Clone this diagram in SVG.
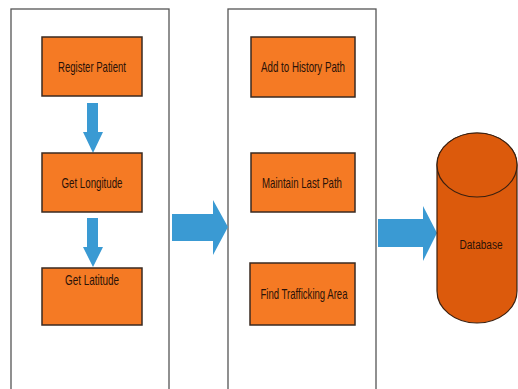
<svg xmlns="http://www.w3.org/2000/svg" width="518" height="389" viewBox="0 0 518 389">
  <style>
    .panel { fill: #ffffff; stroke: #555555; stroke-width: 1.3; }
    .box { fill: #F57A24; stroke: #3a2a20; stroke-width: 1.5; }
    .label { font-family: "Liberation Sans", Arial, sans-serif; font-size: 15px; fill: #2a1208; text-anchor: middle; }
    .arrow { fill: #3A9AD3; }
    .db { fill: #DC5A0C; stroke: #3a2010; stroke-width: 1.2; }
  </style>
  <rect width="518" height="389" fill="#ffffff"/>

  <!-- panels -->
  <rect class="panel" x="11" y="9" width="158" height="390"/>
  <rect class="panel" x="228" y="9" width="148" height="390"/>

  <!-- connectors -->
  <g id="connectors">
    <polygon class="arrow" points="87,103 98,103 98,132 103,132 93,153 83,132 87,132"/>
    <polygon class="arrow" points="87,218 98,218 98,247 103,247 93,267 83,247 87,247"/>
    <polygon class="arrow" points="172,214 213,214 213,200 228,227 213,255 213,241 172,241"/>
    <polygon class="arrow" points="378,219 423,219 423,206 437,233 423,261 423,247 378,247"/>
  </g>

  <g id="register-patient">
    <rect class="box" x="42" y="37" width="100" height="59"/>
    <text class="label" x="92" y="72" textLength="68" lengthAdjust="spacingAndGlyphs">Register Patient</text>
  </g>
  <g id="get-longitude">
    <rect class="box" x="42" y="153" width="100" height="59"/>
    <text class="label" x="92" y="188" textLength="61" lengthAdjust="spacingAndGlyphs">Get Longitude</text>
  </g>
  <g id="get-latitude">
    <rect class="box" x="42" y="268" width="100" height="57"/>
    <text class="label" x="92" y="285" textLength="54" lengthAdjust="spacingAndGlyphs">Get Latitude</text>
  </g>

  <g id="add-history">
    <rect class="box" x="251" y="37" width="104" height="60"/>
    <text class="label" x="303" y="72" textLength="84" lengthAdjust="spacingAndGlyphs">Add to History Path</text>
  </g>
  <g id="maintain-last">
    <rect class="box" x="251" y="153" width="104" height="59"/>
    <text class="label" x="302" y="188" textLength="80" lengthAdjust="spacingAndGlyphs">Maintain Last Path</text>
  </g>
  <g id="find-trafficking">
    <rect class="box" x="250" y="263" width="105" height="62"/>
    <text class="label" x="304" y="299" textLength="87" lengthAdjust="spacingAndGlyphs">Find Trafficking Area</text>
  </g>

  <g id="database">
    <path class="db" d="M437,165 L437,291 A40,32 0 0 0 517,291 L517,165 A40,32 0 0 0 437,165 Z"/>
    <ellipse class="db" cx="477" cy="165" rx="40" ry="32"/>
    <text class="label" x="481" y="249" style="font-size:12px" textLength="43" lengthAdjust="spacingAndGlyphs">Database</text>
  </g>
</svg>
